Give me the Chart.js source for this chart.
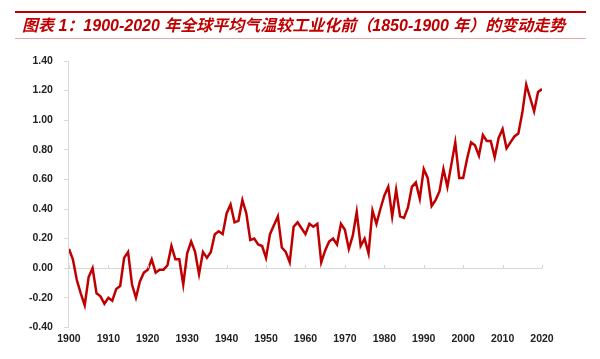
<!DOCTYPE html>
<html>
<head>
<meta charset="utf-8">
<script src="https://cdn.jsdelivr.net/npm/chart.js@4"></script>
<style>
  body { margin: 0; background: #fff; }
  #wrap { position: relative; width: 600px; height: 359px; }
  #title {
    position: absolute; left: 15px; top: 11px; width: 564px; height: 25px;
    border-top: 2px solid #c00000; border-bottom: 1px solid #e8a8a8;
    font-family: "Liberation Sans", "Noto Sans CJK SC", sans-serif;
    font-weight: bold; font-style: italic; font-size: 16px; color: #c00000;
    line-height: 25px; padding-left: 7px; box-sizing: content-box;
    white-space: nowrap;
  }
  canvas { position: absolute; left: 0; top: 0; }
</style>
</head>
<body>
<div id="wrap">
  <canvas id="grafico" width="600" height="359"></canvas>
  <div id="title">图表 1：1900-2020 年全球平均气温较工业化前（1850-1900 年）的变动走势</div>
</div>
<script>
// Anos e anomalia de temperatura (°C)
const anos = [];
for (let a = 1900; a <= 2020; a++) anos.push(a);

const anomalia = [
  0.13, 0.06, -0.08, -0.17, -0.25, -0.06, 0.00, -0.17, -0.19, -0.24,
  -0.20, -0.22, -0.14, -0.12, 0.07, 0.11, -0.11, -0.20, -0.09, -0.03,
  -0.01, 0.06, -0.03, -0.01, -0.01, 0.02, 0.15, 0.06, 0.06, -0.11,
  0.10, 0.18, 0.11, -0.04, 0.11, 0.07, 0.11, 0.23, 0.25, 0.23,
  0.37, 0.43, 0.31, 0.32, 0.46, 0.37, 0.19, 0.20, 0.16, 0.15,
  0.07, 0.23, 0.29, 0.35, 0.14, 0.11, 0.04, 0.28, 0.31, 0.27,
  0.23, 0.30, 0.28, 0.30, 0.04, 0.12, 0.18, 0.20, 0.16, 0.30,
  0.26, 0.13, 0.22, 0.38, 0.15, 0.20, 0.10, 0.39, 0.30, 0.40,
  0.49, 0.55, 0.35, 0.53, 0.35, 0.34, 0.41, 0.55, 0.58, 0.47,
  0.67, 0.61, 0.42, 0.46, 0.52, 0.67, 0.55, 0.70, 0.85, 0.61,
  0.61, 0.74, 0.85, 0.83, 0.76, 0.90, 0.86, 0.86, 0.75, 0.88,
  0.94, 0.81, 0.85, 0.89, 0.91, 1.05, 1.24, 1.15, 1.06, 1.19,
  1.21
];

const marcasX = [1900, 1910, 1920, 1930, 1940, 1950, 1960, 1970, 1980, 1990, 2000, 2010, 2020];

// Pequenas marcas do eixo X sobre a linha do zero
const marcasZero = {
  id: 'marcasZero',
  afterDatasetsDraw(chart) {
    const { ctx, scales: { x, y } } = chart;
    const y0 = y.getPixelForValue(0);
    ctx.save();
    ctx.strokeStyle = '#d0d0d0';
    ctx.lineWidth = 1;
    marcasX.forEach(a => {
      const px = Math.round(x.getPixelForValue(a)) + 0.5;
      ctx.beginPath();
      ctx.moveTo(px, y0 - 3);
      ctx.lineTo(px, y0);
      ctx.stroke();
    });
    ctx.restore();
  }
};

const fonteEixo = { family: 'Liberation Sans, Arial, sans-serif', size: 10.5, weight: 'bold' };

new Chart(document.getElementById('grafico'), {
  type: 'line',
  data: {
    labels: anos,
    datasets: [{
      data: anos.map((a, i) => ({ x: a, y: anomalia[i] })),
      borderColor: '#c00000',
      borderWidth: 2.5,
      pointRadius: 0,
      tension: 0,
      fill: false
    }]
  },
  options: {
    responsive: false,
    animation: false,
    layout: { padding: { top: 61, right: 58, bottom: 9, left: 18 } },
    plugins: { legend: { display: false }, tooltip: { enabled: false } },
    scales: {
      x: {
        type: 'linear',
        min: 1900,
        max: 2020,
        afterBuildTicks: s => { s.ticks = marcasX.map(v => ({ value: v })); },
        ticks: { color: '#222', font: fonteEixo, padding: 5, maxRotation: 0, callback: v => String(v) },
        grid: { display: false, drawTicks: false },
        border: { display: false }
      },
      y: {
        min: -0.4,
        max: 1.4,
        ticks: {
          stepSize: 0.2, color: '#222', font: fonteEixo, padding: 11,
          callback: v => (Math.abs(v) < 1e-9 ? 0 : v).toFixed(2)
        },
        grid: {
          color: c => (Math.abs(c.tick.value) < 1e-9 ? '#d9d9d9' : 'rgba(0,0,0,0)'),
          tickColor: '#d9d9d9',
          tickLength: 5
        },
        border: { color: '#d9d9d9' }
      }
    }
  },
  plugins: [marcasZero]
});
</script>
</body>
</html>
